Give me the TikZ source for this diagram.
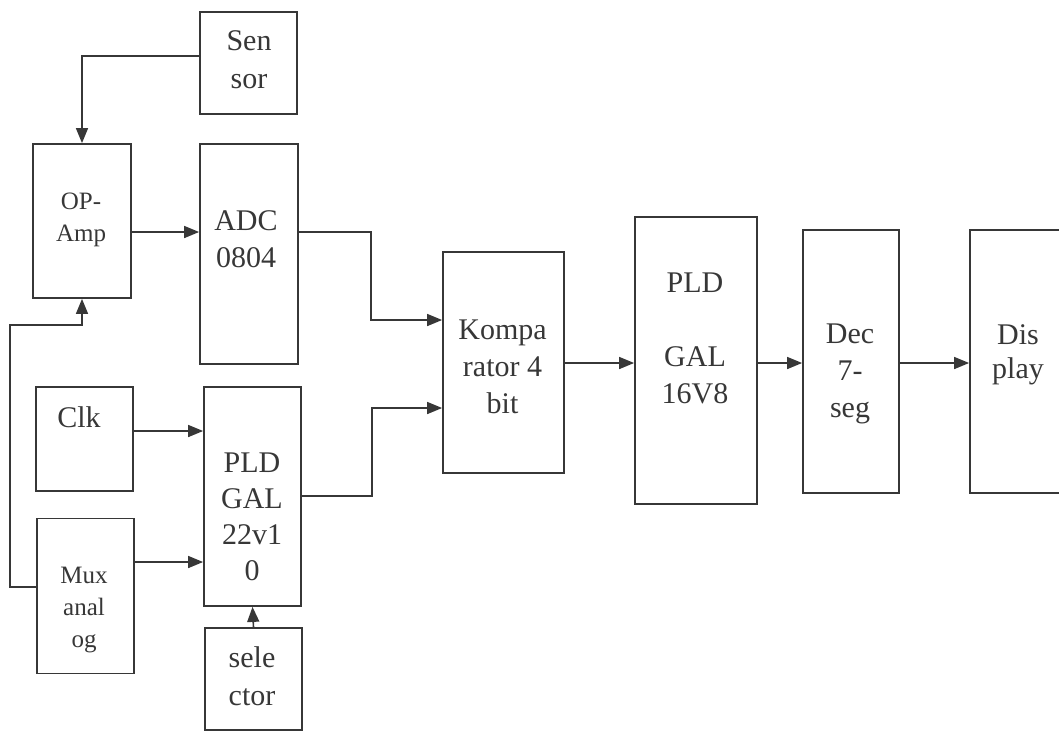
\documentclass[tikz,border=0pt]{standalone}
\usepackage{fontspec}
\setmainfont{Liberation Serif}
\usetikzlibrary{arrows.meta}
\definecolor{ink}{RGB}{55,55,55}
\tikzset{
  box/.style={draw=ink, line width=1.8pt, rectangle, inner sep=0pt},
  arr/.style={draw=ink, line width=1.6pt, -{Triangle[length=15pt,width=12pt]}},
  txt/.style={text=ink, align=center, inner sep=0pt, anchor=base,
              font=\fontsize{30}{37}\selectfont},
  txts/.style={txt, font=\fontsize{25}{32}\selectfont}
}
\begin{document}
\begin{tikzpicture}[x=1pt,y=-1pt]
\useasboundingbox (0,0) rectangle (1059,732);
\clip (0,0) rectangle (1059,732);
% boxes
\node[box, minimum width=97, minimum height=102] (sensor) at (248.5,63) {};
\node[box, minimum width=98, minimum height=154] (opamp) at (82,221) {};
\node[box, minimum width=98, minimum height=220] (adc) at (249,254) {};
\node[box, minimum width=97, minimum height=104] (clk) at (84.5,439) {};
\node[box, minimum width=97, minimum height=219] (pld22) at (252.5,496.5) {};
\node[box, minimum width=97, minimum height=155] (mux) at (85.5,596) {};
\node[box, minimum width=97, minimum height=102] (sel) at (253.5,679) {};
\node[box, minimum width=121, minimum height=221] (kompa) at (503.5,362.5) {};
\node[box, minimum width=122, minimum height=287] (pld16) at (696,360.5) {};
\node[box, minimum width=96, minimum height=263] (dec) at (851,361.5) {};
\node[box, minimum width=110, minimum height=263] (disp) at (1025,361.5) {};
% texts (anchor = baseline of the last line)
\node[txt, font=\fontsize{30}{38}\selectfont] (sensorT) at (249,88) {Sen\\sor};
\node[txts] (opampT) at (81,241) {OP-\\Amp};
\node[txt] (adcT) at (246,267) {ADC\\0804};
\node[txt] (clkT) at (79,427) {Clk};
\node[txt, font=\fontsize{30}{36}\selectfont] (pld22T) at (252,580) {PLD\\GAL\\22v1\\0};
\node[txts] (muxT) at (84,647) {Mux\\anal\\og};
\node[txt, font=\fontsize{30}{38}\selectfont] (selT) at (252,705) {sele\\ctor};
\node[txt] (kompaT) at (502.5,413) {Kompa\\rator 4\\bit};
\node[txt] (pld16T) at (695,403) {PLD\\[37pt]GAL\\16V8};
\node[txt] (decT) at (850,417) {Dec\\7-\\seg};
\node[txt, font=\fontsize{30}{34}\selectfont] (dispT) at (1018,378) {Dis\\play};
% connectors
\draw[arr] (sensor.west |- 0,56) -| (opamp.north);
\draw[arr] (opamp.east |- 0,232) -- (adc.west |- 0,232);
\draw[arr] (mux.west |- 0,587) -| (10,325) -| (opamp.south);
\draw[arr] (clk.east |- 0,431) -- (pld22.west |- 0,431);
\draw[arr] (mux.east |- 0,562) -- (pld22.west |- 0,562);
\draw[arr] (sel.north) -- (pld22.south);
\draw[arr] (adc.east |- 0,232) -- (371,232) |- (kompa.west |- 0,320);
\draw[arr] (pld22.east |- 0,496) -- (372,496) |- (kompa.west |- 0,408);
\draw[arr] (kompa.east |- 0,363) -- (pld16.west |- 0,363);
\draw[arr] (pld16.east |- 0,363) -- (dec.west |- 0,363);
\draw[arr] (dec.east |- 0,363) -- (disp.west |- 0,363);
\end{tikzpicture}
\end{document}
